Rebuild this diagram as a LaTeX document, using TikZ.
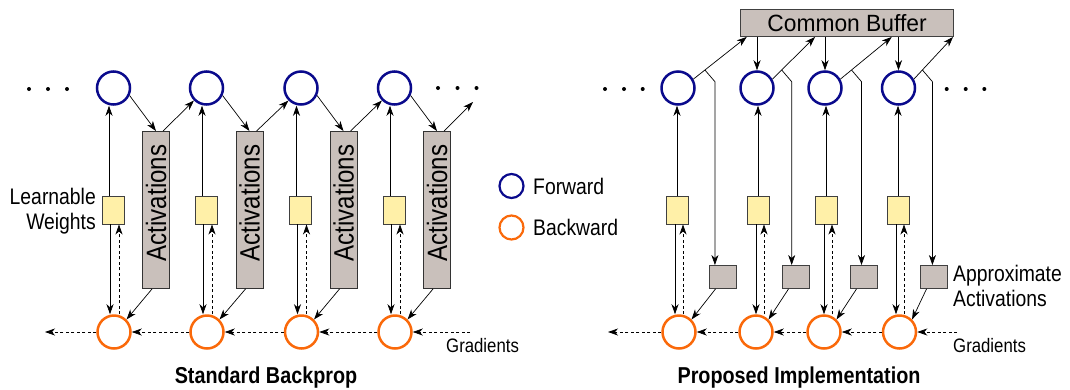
\documentclass[tikz,border=0pt]{standalone}
\usepackage{fontspec}
\setmainfont{Liberation Sans}[FakeStretch=0.86]
\newfontfamily\bufferfont{Liberation Sans}[FakeStretch=0.97]
\usetikzlibrary{arrows.meta,calc}

\definecolor{fwdblue}{RGB}{10,10,140}
\definecolor{bwdorange}{RGB}{250,105,10}
\definecolor{wfill}{RGB}{255,240,168}
\definecolor{afill}{RGB}{201,192,187}

\tikzset{
  fwd/.style={circle, draw=fwdblue, line width=2.5pt, minimum size=33pt, inner sep=0pt},
  bwd/.style={circle, draw=bwdorange, line width=2.5pt, minimum size=33pt, inner sep=0pt},
  wbox/.style={draw=black!75, fill=wfill, line width=0.9pt, minimum width=22pt, minimum height=28pt, inner sep=0pt},
  abox/.style={draw=black!80, fill=afill, line width=0.9pt, minimum width=27pt, minimum height=157pt, inner sep=0pt},
  gbox/.style={draw=black!75, fill=afill, line width=0.9pt, minimum width=27pt, minimum height=23pt, inner sep=0pt},
  conn/.style={-{Stealth[length=10pt,width=7pt,inset=3pt]}, line width=0.7pt},
  back/.style={conn, dash pattern=on 3pt off 2.5pt},
  lbl/.style={font=\fontsize{22.5}{24.5}\selectfont, inner sep=0pt},
  small/.style={font=\fontsize{19.5}{21}\selectfont, inner sep=0pt},
  title/.style={font=\fontsize{23}{25}\selectfont\bfseries, inner sep=0pt},
  dot/.style={circle, fill=black, minimum size=4pt, inner sep=0pt}
}

\begin{document}
\begin{tikzpicture}[x=1pt, y=-1pt]
\useasboundingbox (0,0) rectangle (1070,389);

% ---------------- Standard backprop ----------------
\foreach \i/\x/\ax in {1/113.5/156, 2/206.5/249.5, 3/301/343.5, 4/394.5/437} {
  \node[fwd] (f\i) at (\x,88) {};
  \node[bwd] (b\i) at ({\x+0.5},332) {};
  \node[wbox] (w\i) at ({\x-0.5},210) {};
  \node[abox] (a\i) at (\ax,210) {};
  \node[lbl, font=\fontsize{28}{30}\selectfont] (at\i) at (\ax,203) {\rotatebox{90}{Activations}};
  \draw[conn] ([xshift=-4pt]w\i.north) -- ([xshift=-4pt]w\i.north |- f\i.south);
  \draw[conn] ([xshift=-3pt]w\i.south) -- ([xshift=-3pt]w\i.south |- b\i.north);
  \draw[back] ([xshift=6pt]w\i.south |- b\i.north) -- ([xshift=6pt]w\i.south);
  \draw[conn] (f\i.-25) -- (a\i.north);
  \draw[conn] ([xshift=-4pt]a\i.south) -- (b\i.45);
}
\coordinate (nx) at (473,102);
\draw[conn] ([xshift=7pt]a1.north) -- (f2.-135);
\draw[conn] ([xshift=7pt]a2.north) -- (f3.-135);
\draw[conn] ([xshift=7pt]a3.north) -- (f4.-135);
\draw[conn] ([xshift=7pt]a4.north) -- (nx);

\coordinate (gR) at (470,332);
\coordinate (gL) at (45,332);
\draw[back] (gR) -- (b4.east);
\draw[back] (b4.west) -- (b3.east);
\draw[back] (b3.west) -- (b2.east);
\draw[back] (b2.west) -- (b1.east);
\draw[back] (b1.west) -- (gL);

\foreach \x [count=\k] in {29,48,67} \node[dot] (dl\k) at (\x,89) {};
\foreach \x [count=\k] in {438,457.5,476.5} \node[dot] (dr\k) at (\x,88) {};

\node[lbl, anchor=east, align=right] (lw) at (96,211) {Learnable\\Weights};
\node[small, anchor=west] (gtl) at (446,346) {Gradients};
\node[title] (t1) at (266,378) {Standard Backprop};

% ---------------- Legend ----------------
\node[fwd, minimum size=24pt, line width=2.2pt] (lf) at (511.5,186) {};
\node[bwd, minimum size=24pt, line width=2.2pt] (lb) at (511.5,227.5) {};
\node[lbl, anchor=west] (lft) at (533,186) {Forward};
\node[lbl, anchor=west] (lbt) at (533,227.5) {Backward};

% ---------------- Proposed implementation ----------------
\node[gbox, minimum width=213pt, minimum height=27pt, font=\bufferfont\fontsize{23.5}{25}\selectfont] (buf) at (847,23) {Common Buffer};
\coordinate (hl1) at (600,70);
\coordinate (hl2) at (1000,70);
\foreach \i/\x/\bx/\wx/\gx/\e in {1/678/679/677/722.5/6.7, 2/757/756/758/795.5/75, 3/825/824/826/863.5/151.7, 4/898.5/899.5/898/933.5/213} {
  \node[fwd] (F\i) at (\x,88) {};
  \node[bwd] (B\i) at (\bx,332) {};
  \node[wbox] (W\i) at (\wx,210) {};
  \node[gbox] (G\i) at (\gx,277) {};
  \coordinate (E\i) at ($(buf.south west)+(\e,0)$);
  \coordinate (S\i) at (F\i.30);
  \draw[conn] (S\i) -- (E\i);
  \coordinate (P\i) at (intersection cs: first line={(S\i)--(E\i)}, second line={(hl1)--(hl2)});
  \draw[conn] (P\i) -- ++(10,11.7) coordinate (K\i) -- (K\i |- G\i.north);
  \draw[conn] ([xshift=-7pt]G\i.south) -- (B\i.45);
  \draw[conn] (W\i.north) -- (W\i.north |- F\i.south);
  \draw[conn] ([xshift=-2pt]W\i.south) -- ([xshift=-2pt]W\i.south |- B\i.north);
  \draw[back] ([xshift=6pt]W\i.south |- B\i.north) -- ([xshift=6pt]W\i.south);
}
\draw[conn] (buf.south -| F2) -- (F2.north);
\draw[conn] (buf.south -| F3) -- (F3.north);
\draw[conn] (buf.south -| F4) -- (F4.north);

\coordinate (hR) at (957,332);
\coordinate (hL) at (608,332);
\draw[back] (hR) -- (B4.east);
\draw[back] (B4.west) -- (B3.east);
\draw[back] (B3.west) -- (B2.east);
\draw[back] (B2.west) -- (B1.east);
\draw[back] (B1.west) -- (hL);

\foreach \x [count=\k] in {605,624,642.7} \node[dot] (el\k) at (\x,89) {};
\foreach \x [count=\k] in {946.7,965.7,984.3} \node[dot] (er\k) at (\x,89) {};

\node[lbl, anchor=west, align=left] (aa) at (953,286) {Approximate\\Activations};
\node[small, anchor=west] (gtr) at (953,346) {Gradients};
\node[title] (t2) at (799,378) {Proposed Implementation};
\end{tikzpicture}
\end{document}
